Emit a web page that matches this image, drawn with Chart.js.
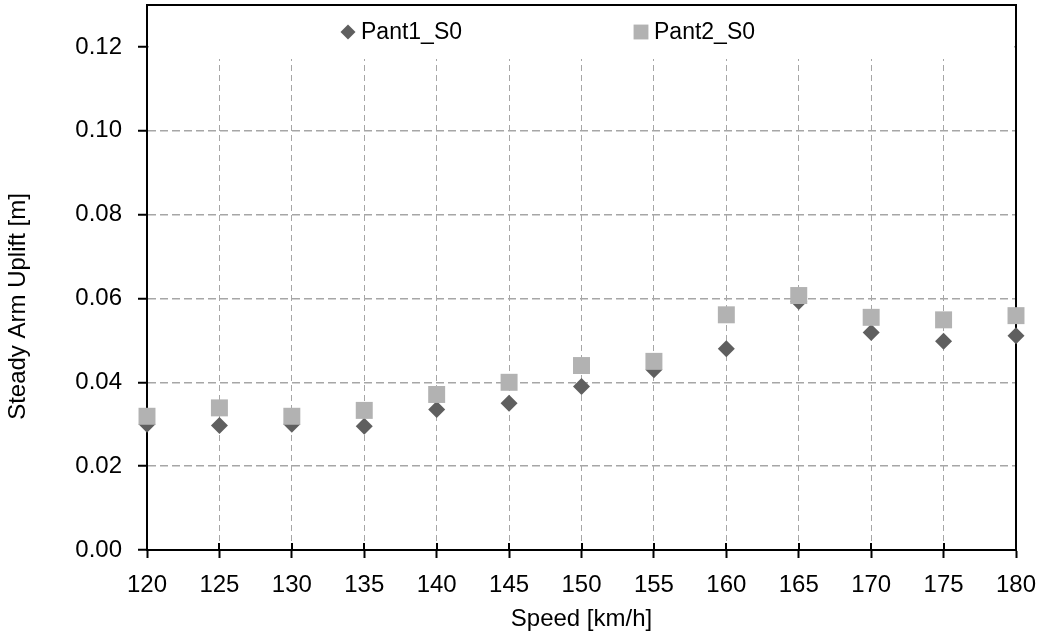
<!DOCTYPE html>
<html>
<head>
<meta charset="utf-8">
<script src="https://cdn.jsdelivr.net/npm/chart.js@4/dist/chart.umd.min.js"></script>
<style>
  html, body { margin: 0; padding: 0; background: #fff; }
  canvas { display: block; }
</style>
</head>
<body>
<canvas id="uplift" width="1039" height="637"></canvas>
<script>
// speed steps and steady arm uplift per pantograph
const speeds = [120, 125, 130, 135, 140, 145, 150, 155, 160, 165, 170, 175, 180];
const pant1 = [0.0300, 0.0297, 0.0300, 0.0295, 0.0335, 0.0350, 0.0390, 0.0430, 0.0480, 0.0593, 0.0519, 0.0498, 0.0511];
const pant2 = [0.0319, 0.0339, 0.0319, 0.0333, 0.0371, 0.0400, 0.0440, 0.0450, 0.0561, 0.0607, 0.0555, 0.0549, 0.0559];
const seriesNames = ['Pant1_S0', 'Pant2_S0'];

const FONT = "'Liberation Sans', Arial, sans-serif";
const AXIS_FONT_SIZE = 24;
const LEGEND_FONT_SIZE = 23;
const GRID = '#a6a6a6';

Chart.defaults.font.family = FONT;
Chart.defaults.font.size = AXIS_FONT_SIZE;
Chart.defaults.color = '#000';

const toPoints = (vals) => vals.map((v, i) => ({ x: speeds[i], y: v }));

// white legend box on top of the grid, plus frame around the plot area
const plotFrame = {
  id: 'plotFrame',
  beforeDatasetsDraw(chart) {
    const { ctx, chartArea: a } = chart;
    ctx.save();
    ctx.fillStyle = '#fff';
    ctx.fillRect(a.left + 2, a.top, a.right - a.left - 4, 54);
    ctx.strokeStyle = '#000';
    ctx.lineWidth = 2;
    ctx.beginPath();
    ctx.moveTo(a.left, a.top);
    ctx.lineTo(a.right, a.top);
    ctx.lineTo(a.right, a.bottom);
    ctx.stroke();
    // x ticks cross the axis line
    const xs = chart.scales.x;
    ctx.beginPath();
    xs.ticks.forEach(t => {
      const px = Math.round(xs.getPixelForValue(t.value));
      ctx.moveTo(px, a.bottom);
      ctx.lineTo(px, a.bottom - 7);
    });
    ctx.stroke();
    ctx.restore();
  },
  afterDraw(chart) {
    const { ctx, chartArea: a } = chart;
    ctx.save();
    // legend
    const legendY = a.top + 27;
    const entries = [
      { x: 348, ds: chart.data.datasets[0] },
      { x: 641, ds: chart.data.datasets[1] }
    ];
    ctx.font = LEGEND_FONT_SIZE + 'px ' + FONT;
    ctx.textBaseline = 'middle';
    ctx.textAlign = 'left';
    entries.forEach(e => {
      ctx.fillStyle = e.ds.backgroundColor;
      ctx.strokeStyle = e.ds.backgroundColor;
      Chart.helpers.drawPoint(ctx, { pointStyle: e.ds.pointStyle, radius: e.ds.pointStyle === 'rect' ? 10.5 : 7.5, borderWidth: 0 }, e.x, legendY);
      ctx.fillStyle = '#000';
      ctx.fillText(e.ds.label, e.x + 13, legendY + 1);
    });
    // y axis title
    ctx.font = AXIS_FONT_SIZE + 'px ' + FONT;
    ctx.translate(18, (a.top + a.bottom) / 2 + 29);
    ctx.rotate(-Math.PI / 2);
    ctx.textAlign = 'center';
    ctx.fillText('Steady Arm Uplift [m]', 0, 0);
    ctx.restore();
  }
};

new Chart(document.getElementById('uplift').getContext('2d'), {
  type: 'scatter',
  data: {
    datasets: [
      {
        label: seriesNames[0],
        data: toPoints(pant1),
        pointStyle: 'rectRot',
        pointRadius: 8.5,
        pointHoverRadius: 8.5,
        backgroundColor: '#5f5f5f',
        borderColor: '#5f5f5f',
        borderWidth: 0,
        order: 2,
        clip: false
      },
      {
        label: seriesNames[1],
        data: toPoints(pant2),
        pointStyle: 'rect',
        pointRadius: 12,
        pointHoverRadius: 12,
        backgroundColor: '#b2b2b2',
        borderColor: '#b2b2b2',
        borderWidth: 0,
        order: 1,
        clip: false
      }
    ]
  },
  options: {
    responsive: false,
    animation: false,
    layout: { autoPadding: false, padding: { top: 5, right: 23, left: 0, bottom: 0 } },
    plugins: {
      legend: { display: false },
      tooltip: { enabled: false }
    },
    scales: {
      x: {
        type: 'linear',
        min: 120,
        max: 180,
        afterFit(scale) {
          scale.height = 87;
          scale.paddingLeft = 0;
          scale.paddingRight = 0;
        },
        ticks: { stepSize: 5, padding: 13, maxRotation: 0 },
        grid: {
          color: GRID,
          lineWidth: 1,
          tickLength: 8,
          tickColor: '#000',
          tickWidth: 2,
          tickBorderDash: []
        },
        border: { color: '#000', width: 2, dash: [6, 4] },
        title: {
          display: true,
          text: 'Speed [km/h]',
          padding: { top: 0, bottom: 3 }
        }
      },
      y: {
        min: 0,
        max: 0.13,
        afterFit(scale) {
          scale.width = 147;
          scale.paddingTop = 0;
          scale.paddingBottom = 0;
        },
        ticks: {
          stepSize: 0.02,
          includeBounds: false,
          padding: 16,
          callback: (v) => v.toFixed(2)
        },
        grid: {
          color: GRID,
          lineWidth: 1.5,
          tickLength: 9,
          tickColor: '#000',
          tickWidth: 2,
          tickBorderDash: []
        },
        border: { color: '#000', width: 2, dash: [8, 4] }
      }
    }
  },
  plugins: [plotFrame]
});
</script>
</body>
</html>
